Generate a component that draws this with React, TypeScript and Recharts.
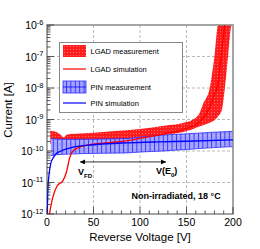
import React from "react";
import {
  ComposedChart,
  Area,
  Line,
  XAxis,
  YAxis,
  CartesianGrid,
  ReferenceLine,
  ReferenceArea,
  ReferenceDot,
} from "recharts";

const FONT = '"Liberation Sans", Arial, Helvetica, sans-serif';

// LGAD measurement band (lower / upper envelope)
const lgadBandV = [3.5, 10, 15, 18, 21, 30, 50, 70, 100, 126, 150, 163, 168, 175, 180, 184, 188, 191.4, 195, 198.6, 200];
const lgadBandLow = [
  1.66e-10, 1.58e-10, 1.58e-10, 1.66e-10, 1.7e-10, 1.74e-10, 1.82e-10, 2.0e-10, 2.4e-10, 3.2e-10, 4.2e-10,
  5.9e-10, 6.6e-10, 7.9e-10, 9.5e-10, 1.26e-9, 2.0e-9, 1.1e-8, 1.26e-7, 1e-6, 1e-6,
];
const lgadBandHigh = [
  4.4e-10, 4.0e-10, 3.2e-10, 2.7e-10, 3.3e-10, 3.5e-10, 3.8e-10, 4.2e-10, 5.0e-10, 6.3e-10, 8.3e-10,
  1.4e-9, 3.2e-9, 1.0e-8, 1.0e-7, 1e-6, 1e-6, 1e-6, 1e-6, 1e-6, 1e-6,
];

// LGAD simulation
const lgadSimV = [2.6, 6, 11, 17, 21, 24.5, 28, 35, 50, 80, 100, 126, 150, 165, 175, 180, 183, 187.4, 191];
const lgadSimI = [
  1e-12, 3.2e-12, 7.9e-12, 1.12e-11, 2.2e-11, 6.3e-11, 1.0e-10, 1.32e-10, 1.66e-10, 2.0e-10, 2.5e-10,
  3.5e-10, 5.2e-10, 8.9e-10, 2.5e-9, 6.3e-9, 1.0e-8, 1.0e-7, 1.0e-6,
];

// PIN measurement band
const pinBandV = [4, 10, 20, 40, 60, 86, 100, 125, 150, 175, 200];
const pinBandLow = [7.1e-11, 7.6e-11, 7.9e-11, 8.3e-11, 8.5e-11, 8.7e-11, 9.3e-11, 1.0e-10, 1.12e-10, 1.26e-10, 1.38e-10];
const pinBandHigh = [2.5e-10, 2.4e-10, 2.35e-10, 2.35e-10, 2.4e-10, 2.5e-10, 2.75e-10, 3.2e-10, 3.5e-10, 3.9e-10, 4.2e-10];

// PIN simulation
const pinSimV = [0.3, 1, 2.4, 4, 7, 10, 15, 28, 50, 86, 120, 150, 200];
const pinSimI = [1e-12, 6.3e-12, 2.0e-11, 4.0e-11, 6.3e-11, 8.3e-11, 1.0e-10, 1.32e-10, 1.58e-10, 1.82e-10, 1.95e-10, 2.04e-10, 2.24e-10];

const xTicks = [0, 10, 20, 30, 40, 50, 60, 70, 80, 90, 100, 110, 120, 130, 140, 150, 160, 170, 180, 190, 200];
const xGrid = [50, 100, 150];
const yMajor = [1e-12, 1e-11, 1e-10, 1e-9, 1e-8, 1e-7, 1e-6];
const yGrid = [1e-11, 1e-10, 1e-9, 1e-8, 1e-7];
const minorMult = [2, 3, 4, 5, 6, 7, 8, 9];
const yTicks = yMajor.concat(...yMajor.slice(0, -1).map((d) => minorMult.map((m) => m * d)));

const lgadBand = lgadBandV.map((v, i) => ({ v, low: lgadBandLow[i], high: lgadBandHigh[i] }));
const pinBand = pinBandV.map((v, i) => ({ v, low: pinBandLow[i], high: pinBandHigh[i] }));
const lgadSim = lgadSimV.map((v, i) => ({ v, i: lgadSimI[i] }));
const pinSim = pinSimV.map((v, i) => ({ v, i: pinSimI[i] }));

const XTick = (props: any) => {
  const { x, y, payload } = props;
  const major = payload.value % 50 === 0;
  return (
    <g>
      <line x1={x} x2={x} y1={y} y2={y - (major ? 7 : 3.5)} stroke="#333" strokeWidth={0.8} />
      {major && (
        <text x={x} y={y + 11.5} textAnchor="middle" fontSize={10.5} fill="#000" fontFamily={FONT}>
          {payload.value}
        </text>
      )}
    </g>
  );
};

const YTick = (props: any) => {
  const { x, y, payload } = props;
  const v = payload.value;
  const exp = Math.round(Math.log10(v));
  const major = Math.abs(v / Math.pow(10, exp) - 1) < 1e-6;
  return (
    <g>
      <line x1={x} x2={x + (major ? 7 : 3.5)} y1={y} y2={y} stroke="#333" strokeWidth={0.8} />
      {major && (
        <text x={x - 3.5} y={y + 4} textAnchor="end" fontSize={10.5} fill="#000" fontFamily={FONT}>
          10
          <tspan dy={-4.5} fontSize={7.5}>
            {exp}
          </tspan>
        </text>
      )}
    </g>
  );
};

const note = (content: React.ReactNode) => (p: any) => (
  <text x={p.cx} y={p.cy} fontSize={9} fontWeight="bold" fill="#000" fontFamily={FONT}>
    {content}
  </text>
);

export default function App() {
  return (
    <div style={{ position: "absolute", left: 0, top: 0, width: 260, height: 249, background: "#fff", fontFamily: FONT }}>
      <svg width={0} height={0} style={{ position: "absolute" }}>
        <defs>
          <pattern id="lgadHatch" width={3} height={3} patternUnits="userSpaceOnUse">
            <rect width={3} height={3} fill="#ff1c1c" />
            <rect x={1} y={1} width={1} height={1} fill="#ff6a6a" />
          </pattern>
          <pattern id="pinHatch" width={4.4} height={6} patternUnits="userSpaceOnUse">
            <rect width={4.4} height={6} fill="#a4a4ff" />
            <rect x={2} y={3} width={1} height={1} fill="#c8c8ff" />
            <line x1={0.5} x2={0.5} y1={0} y2={6} stroke="#1a1aff" strokeWidth={0.8} />
          </pattern>
          <marker id="arrowHead" viewBox="0 0 10 10" refX={10} refY={5} markerWidth={6} markerHeight={5} orient="auto-start-reverse" markerUnits="userSpaceOnUse">
            <path d="M0,0 L10,5 L0,10 z" fill="#000" />
          </marker>
        </defs>
      </svg>
      <ComposedChart width={260} height={249} margin={{ top: 25, right: 27, bottom: 0, left: 0 }}>
        <CartesianGrid horizontalValues={yGrid} verticalValues={xGrid} stroke="#aaa" strokeDasharray="3 2" strokeWidth={0.8} />
        <XAxis
          dataKey="v"
          type="number"
          domain={[0, 200]}
          allowDataOverflow
          ticks={xTicks}
          interval={0}
          tickLine={false}
          axisLine={false}
          tickSize={0}
          tickMargin={0}
          height={35}
          tick={(p: any) => <XTick {...p} />}
          label={{ value: "Reverse Voltage [V]", position: "insideBottom", offset: 8, fontSize: 11.5, fill: "#000" }}
        />
        <YAxis
          type="number"
          scale="log"
          domain={[1e-12, 1e-6]}
          allowDataOverflow
          ticks={yTicks}
          interval={0}
          tickLine={false}
          axisLine={false}
          tickSize={0}
          tickMargin={0}
          width={47}
          tick={(p: any) => <YTick {...p} />}
        />
        <Area
          data={lgadBand}
          dataKey={(d: any) => [d.low, d.high]}
          type="monotone"
          fill="url(#lgadHatch)"
          fillOpacity={1}
          stroke="none"
          dot={false}
          activeDot={false}
          isAnimationActive={false}
        />
        <Area
          data={pinBand}
          dataKey={(d: any) => [d.low, d.high]}
          type="monotone"
          fill="url(#pinHatch)"
          fillOpacity={1}
          stroke="#2a2aff"
          strokeWidth={0.8}
          dot={false}
          activeDot={false}
          isAnimationActive={false}
        />
        <Line data={lgadSim} dataKey="i" type="monotone" stroke="#ff0000" strokeWidth={1.3} dot={false} activeDot={false} isAnimationActive={false} />
        <Line data={pinSim} dataKey="i" type="monotone" stroke="#0000ff" strokeWidth={1.3} dot={false} activeDot={false} isAnimationActive={false} />
        <ReferenceArea x1={0} x2={200} y1={1e-12} y2={1e-6} fill="none" fillOpacity={0} stroke="#888" strokeWidth={1.5} ifOverflow="visible" />
        <ReferenceLine
          segment={[
            { x: 35.5, y: 4.5e-11 },
            { x: 128, y: 4.5e-11 },
          ]}
          stroke="#000"
          strokeWidth={0.8}
          markerStart="url(#arrowHead)"
          markerEnd="url(#arrowHead)"
        />
        <ReferenceDot
          x={33.3}
          y={1.73e-11}
          r={0}
          shape={note(
            <>
              V<tspan dy={2.5} fontSize={6}>FD</tspan>
            </>
          )}
        />
        <ReferenceDot
          x={117.2}
          y={1.86e-11}
          r={0}
          shape={note(
            <>
              V(E<tspan dy={2.5} fontSize={6}>0</tspan>
              <tspan dy={-2.5}>)</tspan>
            </>
          )}
        />
        <ReferenceDot x={90.9} y={3.0e-12} r={0} shape={note("Non-irradiated, 18 °C")} />
      </ComposedChart>
      <svg width={260} height={249} style={{ position: "absolute", left: 0, top: 0, pointerEvents: "none" }}>
        <text transform="translate(12,110) rotate(-90)" textAnchor="middle" fontSize={11.5} fill="#000" fontFamily={FONT}>
          Current [A]
        </text>
        <rect x={59.5} y={42.5} width={123} height={70} fill="#fff" stroke="#888" strokeWidth={1} />
        <rect x={63} y={45} width={23} height={12} fill="url(#lgadHatch)" />
        <text x={90.5} y={53.7} fontSize={7.5} fill="#000" fontFamily={FONT}>LGAD measurement</text>
        <line x1={63} x2={86} y1={69} y2={69} stroke="#ff0000" strokeWidth={1.2} />
        <text x={90.5} y={71.7} fontSize={7.5} fill="#000" fontFamily={FONT}>LGAD simulation</text>
        <rect x={63} y={81} width={23} height={12} fill="url(#pinHatch)" stroke="#2a2aff" strokeWidth={0.8} />
        <line x1={63} x2={86} y1={87} y2={87} stroke="#0000ff" strokeWidth={0.8} />
        <text x={90.5} y={89.7} fontSize={7.5} fill="#000" fontFamily={FONT}>PIN measurement</text>
        <line x1={63} x2={86} y1={103} y2={103} stroke="#0000ff" strokeWidth={1.2} />
        <text x={90.5} y={105.7} fontSize={7.5} fill="#000" fontFamily={FONT}>PIN simulation</text>
      </svg>
    </div>
  );
}
